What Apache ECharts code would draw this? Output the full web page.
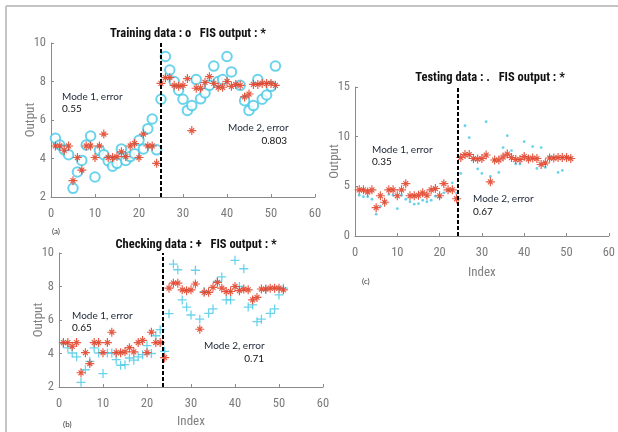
<!DOCTYPE html>
<html>
<head>
<meta charset="utf-8">
<script src="https://cdn.jsdelivr.net/npm/echarts@6/dist/echarts.min.js"></script>
<style>
html,body{margin:0;padding:0;background:#fff;}
#c{width:618px;height:432px;}
</style>
</head>
<body>
<div id="c"></div>
<script>
var indexVals = [1,2,3,4,5,6,7,8,9,10,11,12,13,14,15,16,17,18,19,20,21,22,23,24,25,26,27,28,29,30,31,32,33,34,35,36,37,38,39,40,41,42,43,44,45,46,47,48,49,50,51];
var fisOutput = [4.65,4.65,4.43,4.65,2.85,4.05,3.4,4.65,4.65,4.05,
                 4.65,5.27,4.05,4.05,4.1,4.35,4.1,4.65,4.78,4.05,
                 5.27,4.65,4.65,3.75,7.9,8.2,8.2,7.8,7.75,7.8,
                 8.15,5.45,7.65,7.65,7.95,8.25,7.9,7.7,7.7,8.0,
                 7.75,7.85,7.8,7.2,7.35,7.85,7.85,7.9,7.9,7.9,7.8];
var trainingData = [5.05,4.7,4.45,4.2,2.45,3.3,3.9,4.7,5.17,3.04,
                    4.43,4.2,3.88,3.6,3.75,4.5,3.9,4.1,4.25,4.95,
                    4.5,5.55,6.05,4.45,7.08,9.3,8.6,8.0,7.55,7.08,
                    6.5,6.75,8.1,7.1,7.4,7.8,8.8,8.0,8.1,9.3,
                    8.5,10.05,7.8,7.0,6.5,6.75,8.1,7.08,7.3,7.75,8.8];
var checkingData = [4.6,4.33,4.03,3.8,2.28,3.03,3.53,4.33,4.03,2.8,
                    4.03,4.03,3.63,3.3,3.33,3.73,3.6,3.8,3.93,4.47,
                    4.0,5.06,5.42,4.13,6.38,9.34,9.0,7.2,6.77,6.3,
                    8.97,6.05,7.7,6.4,6.66,8.3,8.57,7.2,7.2,9.56,
                    8.0,9.06,6.77,6.9,5.9,6.05,7.8,6.4,6.66,7.5,7.9];
var testingData = [4.1,3.95,3.95,3.7,2.2,3.0,3.45,4.2,4.1,2.75,
                   4.1,3.7,3.45,3.2,3.25,3.6,3.45,3.6,4.0,3.9,
                   4.35,4.6,5.35,4.3,6.3,11.1,9.9,7.65,6.75,6.3,
                   11.5,6.0,7.65,6.4,8.9,10.1,8.6,7.25,7.25,9.5,
                   8.0,9.0,6.8,8.9,6.9,8.0,7.9,6.4,6.6,8.0,7.9];
var modeSplit = [25, 23.6, 24.2];
var titles = ['Training data : o   FIS output : *', 'Checking data : +   FIS output : *', 'Testing data : .   FIS output : *'];
var mode1Err = ['0.55', '0.65', '0.35'];
var mode2Err = ['0.803', '0.71', '0.67'];
var panelTags = ['(a)', '(b)', '(c)'];
var xRange = [0, 60, 10];
var yRanges = [[2, 10, 2], [2, 10, 2], [0, 15, 5]];

function pairs(ys){ return indexVals.map(function(x,i){ return [x, ys[i]]; }); }

var narrow = "'Roboto Condensed','DejaVu Sans Condensed','Liberation Sans',sans-serif";
var annFont = "Lato,'Open Sans',sans-serif";
var RED = '#e2462e', CYAN = '#45c8e6';
var STAR = 'path://M0,-10L0,10M-10,0L10,0M-5.5,-5.5L5.5,5.5M-5.5,5.5L5.5,-5.5';
var PLUS = 'path://M0,-10L0,10M-10,0L10,0';

var grids = [
  {left:51, right:303, top:43, bottom:235},
  {left:59, right:295, top:253, bottom:45},
  {left:355, right:3, top:87, bottom:196}
];

function xAx(i, named, gap){
  return {type:'value', gridIndex:i, min:xRange[0], max:xRange[1], interval:xRange[2],
    name: named ? 'Index' : '', nameLocation:'middle', nameGap:gap, nameMoveOverlap:false,
    nameTextStyle:{color:'#808080', fontSize:13, fontFamily:narrow},
    axisLine:{show:true, lineStyle:{color:'#8a8a8a', width:1}},
    axisTick:{show:true, inside:true, length:3, lineStyle:{color:'#8a8a8a'}},
    axisLabel:{color:'#7a7a7a', fontSize:12.5, fontFamily:narrow, margin:10},
    splitLine:{show:false}};
}
function yAx(i){
  var r = yRanges[i];
  return {type:'value', gridIndex:i, min:r[0], max:r[1], interval:r[2],
    name:'Output', nameLocation:'middle', nameGap:14, nameMoveOverlap:false,
    nameTextStyle:{color:'#808080', fontSize:13, fontFamily:narrow},
    axisLine:{show:true, lineStyle:{color:'#8a8a8a', width:1}},
    axisTick:{show:true, inside:true, length:3, lineStyle:{color:'#8a8a8a'}},
    axisLabel:{color:'#7a7a7a', fontSize:12.5, fontFamily:narrow, margin:5},
    splitLine:{show:false}};
}

var dataSets = [trainingData, checkingData, testingData];
var series = [];
dataSets.forEach(function(ds, i){
  var s = {type:'scatter', xAxisIndex:i, yAxisIndex:i, data:pairs(ds), silent:true, z:2,
    markLine:{silent:true, symbol:['none','none'], label:{show:false},
      lineStyle:{color:'#000', type:[4,2], width:2}, data:[{xAxis:modeSplit[i]}]}};
  if (i === 0) {
    s.symbol = 'emptyCircle'; s.symbolSize = 9.5;
    s.itemStyle = {color:CYAN, borderColor:CYAN, borderWidth:1};
  } else if (i === 1) {
    s.symbol = PLUS; s.symbolSize = 9;
    s.itemStyle = {color:'none', borderColor:CYAN, borderWidth:1.3};
  } else {
    s.symbol = 'circle'; s.symbolSize = 2.8;
    s.itemStyle = {color:CYAN};
  }
  series.push(s);
  series.push({type:'scatter', xAxisIndex:i, yAxisIndex:i, data:pairs(fisOutput), silent:true, z:3,
    symbol:STAR, symbolSize:9, itemStyle:{color:'none', borderColor:RED, borderWidth:1.15, opacity:0.9}});
});

var titleCfg = grids.map(function(g, i){
  var centers = [183, 191, 485];
  var tops = [22, 233, 66];
  return {text:titles[i], left:centers[i], top:tops[i], textAlign:'center',
    textStyle:{fontSize:12.5, fontWeight:'bold', color:'#111', fontFamily:narrow}};
});

function txt(x, y, s, opts){
  opts = opts || {};
  return {type:'text', left:x, top:y, style:{text:s, fill:opts.fill || '#1c2536',
    font:(opts.size || 10) + 'px ' + (opts.font || annFont), textAlign:opts.align || 'left'}};
}
function txtR(xr, y, s){
  return {type:'text', right:618 - xr, top:y, style:{text:s, fill:'#111', font:'10px ' + annFont}};
}

var graphics = [
  {type:'line', shape:{x1:6, y1:6, x2:618, y2:6}, style:{stroke:'#c4c4c4', lineWidth:2}},
  {type:'line', shape:{x1:6, y1:6, x2:6, y2:432}, style:{stroke:'#c4c4c4', lineWidth:2}},
  txt(62, 92, 'Mode 1, error'), txt(62, 104, mode1Err[0], {fill:'#111'}),
  txt(228, 123, 'Mode 2, error'), txtR(287, 136, mode2Err[0]),
  txt(72, 311, 'Mode 1, error'), txt(72, 323, mode1Err[1], {fill:'#111'}),
  txt(204, 341, 'Mode 2, error'), txtR(264, 354, mode2Err[1]),
  txt(372, 145, 'Mode 1, error'), txt(372, 157, mode1Err[2], {fill:'#111'}),
  txt(473, 194, 'Mode 2, error'), txt(473, 207, mode2Err[2], {fill:'#111'}),
  txt(52, 227, panelTags[0], {size:8, fill:'#333'}),
  txt(63, 420, panelTags[1], {size:8, fill:'#333'}),
  txt(362, 277, panelTags[2], {size:8, fill:'#333'})
];

var chart = echarts.init(document.getElementById('c'), null, {renderer:'canvas'});
chart.setOption({
  animation:false,
  backgroundColor:'#fff',
  title:titleCfg,
  grid:grids,
  xAxis:[xAx(0,false,24), xAx(1,true,28), xAx(2,true,30)],
  yAxis:[yAx(0), yAx(1), yAx(2)],
  series:series,
  graphic:graphics
});
</script>
</body>
</html>
